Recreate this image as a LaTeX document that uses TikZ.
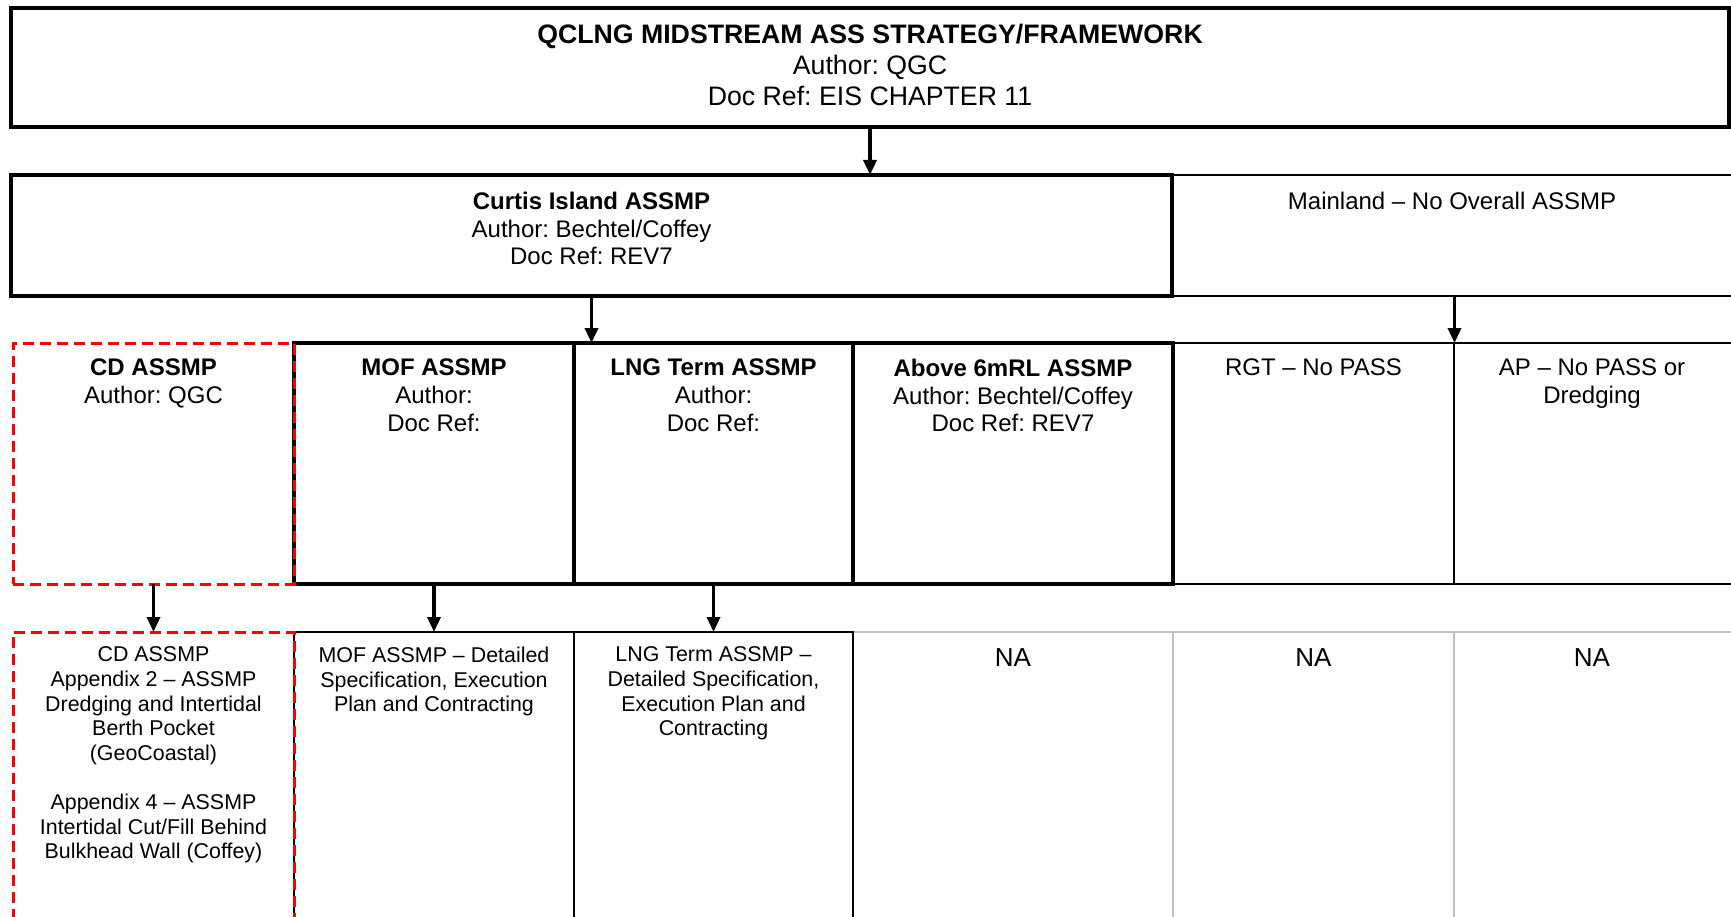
\documentclass[tikz,border=0pt]{standalone}
\usepackage{fontspec}
\setmainfont{Liberation Sans}
\usetikzlibrary{arrows.meta,calc}
\definecolor{cellgray}{HTML}{BFBFBF}
\definecolor{cdred}{HTML}{FF0000}
\newcommand{\fTitle}{\fontsize{26.7}{31}\selectfont}
\newcommand{\fNA}{\fontsize{26}{31}\selectfont}
\newcommand{\fMid}{\fontsize{24}{27.6}\selectfont}
\newcommand{\fSmall}{\fontsize{21.4}{24.6}\selectfont}
\frenchspacing
\begin{document}
\frenchspacing
\begin{tikzpicture}[x=1pt,y=-1pt,
  box/.style={draw, rectangle, inner sep=0pt, outer sep=0pt, anchor=north west},
  thickb/.style={line width=3.2pt, draw=black},
  thinb/.style={line width=1.9pt, draw=black},
  grayb/.style={line width=2pt, draw=cellgray},
  cdbox/.style={line width=3pt, draw=cdred, dash pattern=on 11pt off 6pt},
  arr/.style={line width=3.4pt, -{Triangle[length=15pt,width=13pt]}},
  txt/.style={anchor=north, align=center, inner sep=0pt, outer sep=0pt}]
\useasboundingbox (0,0) rectangle (1731,917);
\fill[white] (0,0) rectangle (1731,917);
% level 1
\node[box, thickb, minimum width=1718pt, minimum height=119pt] (top) at (11,8) {};
% level 2
\node[box, thinb, minimum width=565pt, minimum height=121pt] (main) at (1172,175) {};
\node[box, thickb, minimum width=1161pt, minimum height=121pt] (curtis) at (11,175) {};
% level 3
\node[box, thinb, minimum width=281pt, minimum height=241pt] (rgt) at (1173,343) {};
\node[box, thinb, minimum width=283pt, minimum height=241pt] (ap) at (1454,343) {};
\node[box, thickb, minimum width=280pt, minimum height=241pt] (mof) at (294,343) {};
\node[box, thickb, minimum width=279pt, minimum height=241pt] (lng) at (574,343) {};
\node[box, thickb, minimum width=320pt, minimum height=241pt] (above) at (853,343) {};
\node[box, cdbox, minimum width=281pt, minimum height=241pt] (cd) at (13,343) {};
% level 4
\node[box, grayb, minimum width=320pt, minimum height=300pt] (na1) at (853,632) {};
\node[box, grayb, minimum width=281pt, minimum height=300pt] (na2) at (1173,632) {};
\node[box, grayb, minimum width=283pt, minimum height=300pt] (na3) at (1454,632) {};
\node[box, thinb, minimum width=280pt, minimum height=300pt] (mof4) at (294,632) {};
\node[box, thinb, minimum width=279pt, minimum height=300pt] (lng4) at (574,632) {};
\node[box, cdbox, minimum width=281pt, minimum height=300pt] (cd4) at (13,632) {};
% arrows
\draw[arr] (top.south) -- (top.south |- curtis.north);
\draw[arr] (curtis.south) -- (curtis.south |- lng.north);
\draw[arr] (main.south) -- (main.south |- ap.north);
\draw[arr] (cd.south) -- (cd4.north);
\draw[arr] (mof.south) -- (mof4.north);
\draw[arr] (lng.south) -- (lng4.north);
% texts
\node[txt, font=\fTitle] (tTop) at ($(top.north)+(0,16.4)$)
  {\textbf{QCLNG MIDSTREAM ASS STRATEGY/FRAMEWORK}\\Author: QGC\\Doc Ref: EIS CHAPTER 11};
\node[txt, font=\fMid] (tCurtis) at ($(curtis.north)+(0,17.4)$)
  {\textbf{Curtis Island ASSMP}\\Author: Bechtel/Coffey\\Doc Ref: REV7};
\node[txt, font=\fMid] (tMain) at ($(1452,175)+(0,17.4)$)
  {Mainland -- No Overall ASSMP};
\node[txt, font=\fMid] (tCD) at ($(cd.north)+(0,16.2)$)
  {\textbf{CD ASSMP}\\Author: QGC};
\node[txt, font=\fMid] (tMOF) at ($(mof.north)+(0,16.2)$)
  {\textbf{MOF ASSMP}\\Author:\\Doc Ref:};
\node[txt, font=\fMid] (tLNG) at ($(lng.north)+(0,16.2)$)
  {\textbf{LNG Term ASSMP}\\Author:\\Doc Ref:};
\node[txt, font=\fMid] (tAbove) at ($(above.north)+(0,16.2)$)
  {\textbf{Above 6mRL ASSMP}\\Author: Bechtel/Coffey\\Doc Ref: REV7};
\node[txt, font=\fMid] (tRGT) at ($(rgt.north)+(0,16.2)$)
  {RGT -- No PASS};
\node[txt, font=\fMid] (tAP) at ($(1592,343)+(0,16.2)$)
  {AP -- No PASS or\\Dredging};
\node[txt, font=\fSmall] (tCD4) at ($(cd4.north)+(0,15)$)
  {CD ASSMP\\Appendix 2 -- ASSMP\\Dredging and Intertidal\\Berth Pocket\\(GeoCoastal)\\[24.6pt]Appendix 4 -- ASSMP\\Intertidal Cut/Fill Behind\\Bulkhead Wall (Coffey)};
\node[txt, font=\fSmall] (tMOF4) at ($(mof4.north)+(0,15)$)
  {MOF ASSMP -- Detailed\\Specification, Execution\\Plan and Contracting};
\node[txt, font=\fSmall] (tLNG4) at ($(lng4.north)+(0,15)$)
  {LNG Term ASSMP --\\Detailed Specification,\\Execution Plan and\\Contracting};
\node[txt, font=\fNA] (tNA1) at ($(na1.north)+(0,16.3)$) {NA};
\node[txt, font=\fNA] (tNA2) at ($(na2.north)+(0,16.3)$) {NA};
\node[txt, font=\fNA] (tNA3) at ($(1592,632)+(0,16.3)$) {NA};
\end{tikzpicture}
\end{document}
